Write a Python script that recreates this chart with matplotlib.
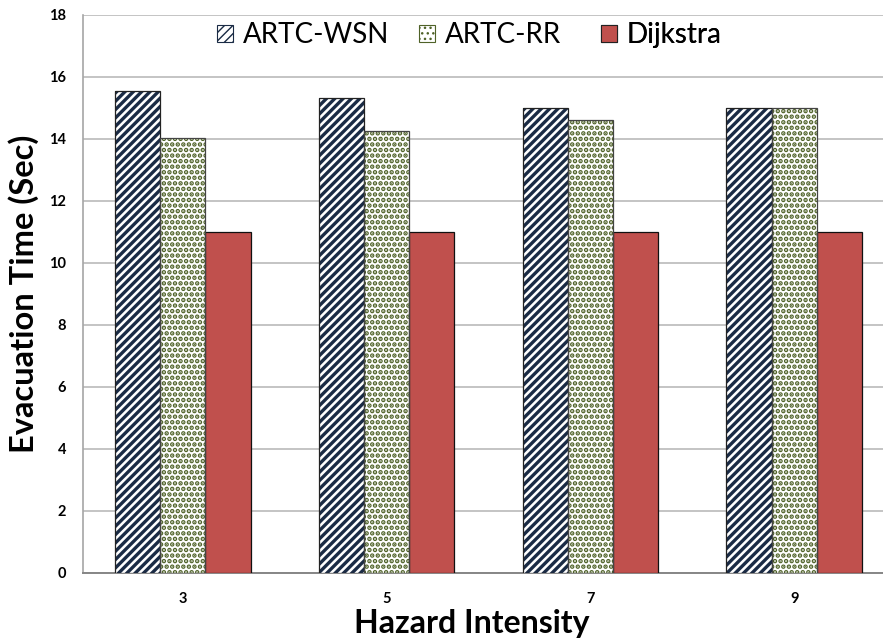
import matplotlib
matplotlib.use("Agg")
import matplotlib.pyplot as plt
import matplotlib.patches as mpatches
import numpy as np

# Evacuation time per hazard intensity
categories = ["3", "5", "7", "9"]
artc_wsn = [15.55, 15.33, 15.0, 15.0]
artc_rr = [14.03, 14.27, 14.6, 15.0]
dijkstra = [11.0, 11.0, 11.0, 11.0]
series_names = ["ARTC-WSN", "ARTC-RR", "Dijkstra"]

plt.rcParams["font.family"] = ["Lato", "DejaVu Sans"]

W, H = 883, 639
fig = plt.figure(figsize=(W / 100, H / 100), dpi=100)
ax_l, ax_b, ax_w, ax_h = 83, 66, W - 83, 558
ax = fig.add_axes([ax_l / W, ax_b / H, ax_w / W, ax_h / H])


def ax_x(px):
    return (px - ax_l) / ax_w


def ax_y(py_from_top):
    return (H - py_from_top - ax_b) / ax_h


x = np.arange(len(categories))
w = 0.222

stripe_col = "#1A2B45"
dot_col = "#4F6228"
red_col = "#C0504D"

# striped series
with plt.rc_context({"hatch.linewidth": 2.4, "hatch.color": stripe_col}):
    ax.bar(x - w, artc_wsn, w, color="white", edgecolor=stripe_col,
           hatch="////", linewidth=0, zorder=3)
ax.bar(x - w, artc_wsn, w, fill=False, edgecolor="#222222", linewidth=0.9, zorder=4)

# dotted series
with plt.rc_context({"hatch.linewidth": 2.3, "hatch.color": dot_col}):
    ax.bar(x, artc_rr, w, color="white", edgecolor=dot_col,
           hatch="...", linewidth=0, zorder=3)
ax.bar(x, artc_rr, w, fill=False, edgecolor="#444444", linewidth=0.9, zorder=4)

# solid series
ax.bar(x + w, dijkstra, w, color=red_col, edgecolor="#111111",
       linewidth=0.9, zorder=3)

ax.set_xlim(-0.49, 3.436)
ax.set_ylim(0, 18)
ax.set_yticks(np.arange(0, 19, 2))
ax.set_xticks(x)
ax.set_xticklabels(categories)
ax.yaxis.grid(True, color="#BFBFBF", linewidth=1.3, zorder=0)
ax.set_axisbelow(True)
ax.tick_params(axis="both", length=0, labelsize=10.5)
ax.tick_params(axis="y", pad=12)
ax.tick_params(axis="x", pad=14)
for lab in ax.get_xticklabels() + ax.get_yticklabels():
    lab.set_fontweight("bold")

for s in ["top", "right"]:
    ax.spines[s].set_visible(False)
ax.spines["left"].set_color("#A6A6A6")
ax.spines["left"].set_linewidth(1.2)
ax.spines["bottom"].set_color("#868686")
ax.spines["bottom"].set_linewidth(1.4)

ax.set_ylabel("Evacuation Time (Sec)", fontsize=23.5, fontweight="bold")
ax.set_xlabel("Hazard Intensity", fontsize=23, fontweight="bold")
ax.yaxis.set_label_coords(ax_x(39), ax_y(294))
ax.xaxis.set_label_coords(ax_x(472), ax_y(609))

# legend entries, one per series, placed along the top of the plot
with plt.rc_context({"hatch.linewidth": 2.0, "hatch.color": stripe_col}):
    h1 = mpatches.Patch(facecolor="white", edgecolor=stripe_col, hatch="////", linewidth=0.8)
with plt.rc_context({"hatch.linewidth": 2.0, "hatch.color": dot_col}):
    h2 = mpatches.Patch(facecolor="white", edgecolor=dot_col, hatch="...", linewidth=0.8)
h3 = mpatches.Patch(facecolor=red_col, edgecolor="#222222", linewidth=0.8)

for handle, name, px in zip([h1, h2, h3], series_names, [217, 419, 601]):
    leg = ax.legend([handle], [name], loc="center left",
                    bbox_to_anchor=(ax_x(px), ax_y(35)),
                    frameon=False, fontsize=20, borderpad=0, borderaxespad=0,
                    handlelength=0.58, handleheight=0.58, handletextpad=0.35)
    ax.add_artist(leg)

fig.savefig("out.png", dpi=100)
